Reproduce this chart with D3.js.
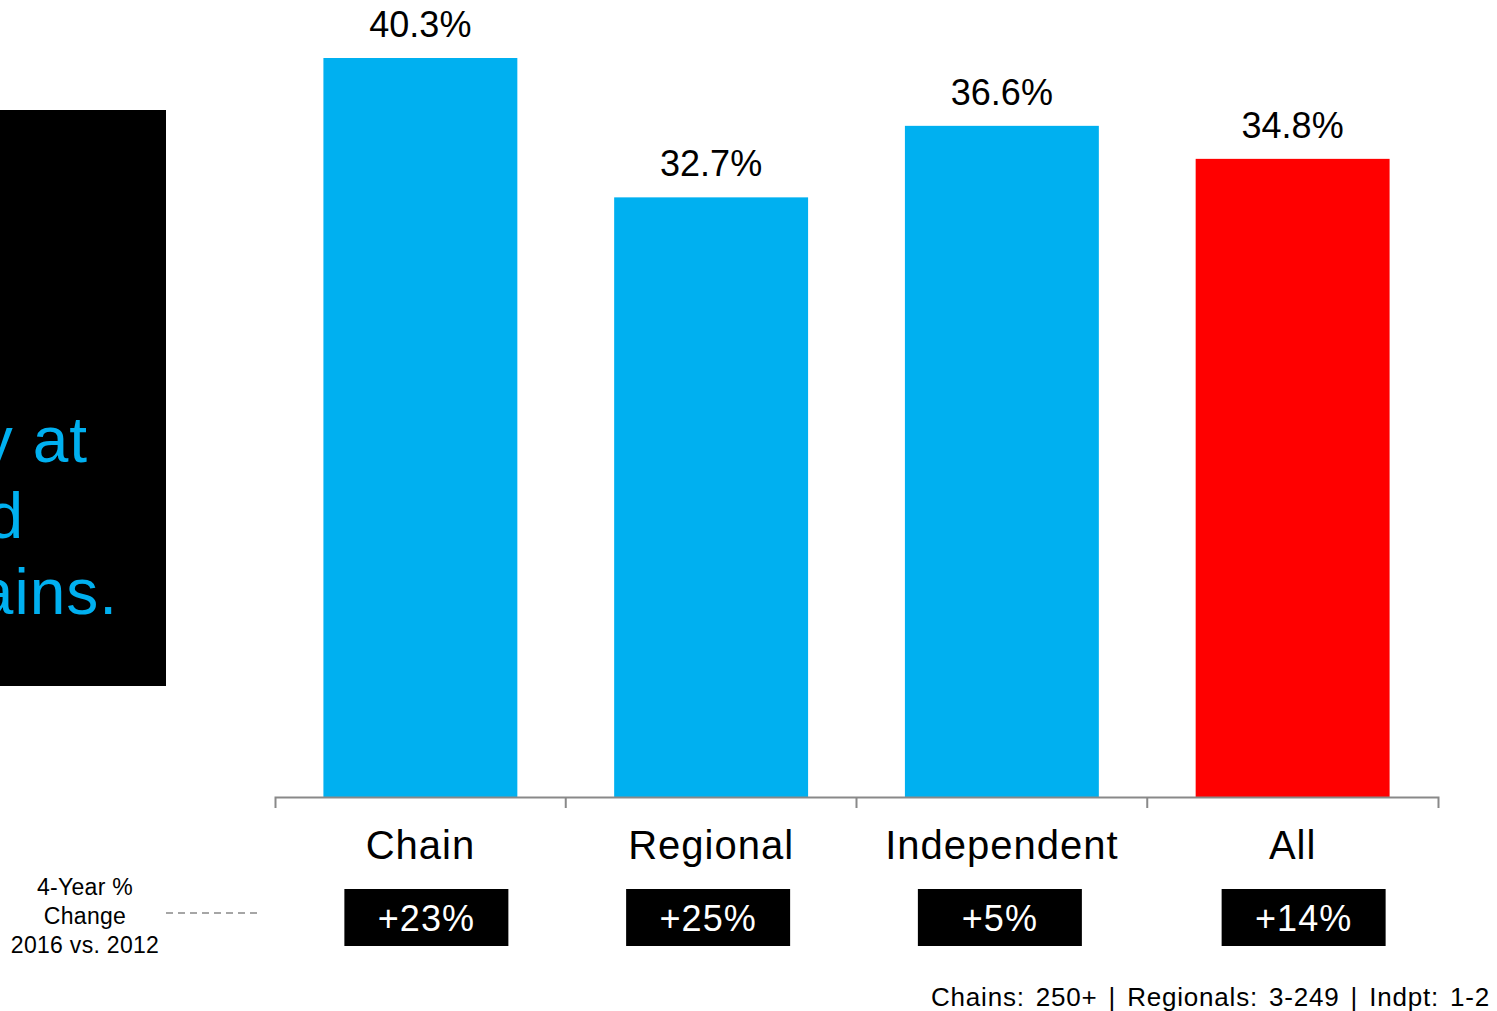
<!DOCTYPE html>
<html><head><meta charset="utf-8">
<script src="https://cdn.jsdelivr.net/npm/d3@7"></script>
<style>
html,body{margin:0;padding:0;background:#fff;}
svg{display:block;font-family:"Liberation Sans",Arial,sans-serif;}
</style></head>
<body>
<svg id="chart" width="1497" height="1011"></svg>
<script>
const categories = ["Chain", "Regional", "Independent", "All"];
const values = [40.3, 32.7, 36.6, 34.8];
const valueLabels = ["40.3%", "32.7%", "36.6%", "34.8%"];
const changeLabels = ["+23%", "+25%", "+5%", "+14%"];
const sideLines = ["ly at", "and", "chains."];
const changeTitle = ["4-Year %", "Change", "2016 vs. 2012"];
const footnote = "Chains: 250+ | Regionals: 3-249 | Indpt: 1-2";

const svg = d3.select("#chart");
const blue = "#00B0F0", red = "#FF0000", axisGrey = "#898989";

const x = d3.scaleBand().domain(categories).range([275, 1438]).padding(0);
const y = d3.scaleLinear().domain([0, 40.3]).range([797, 58]);
const barW = x.bandwidth() * 0.667;

// left black panel with clipped text (cut off at the page edge, as in the source slide)
svg.append("defs").append("clipPath").attr("id", "panelClip")
  .append("rect").attr("x", 0).attr("y", 110).attr("width", 166).attr("height", 576);
svg.append("rect").attr("x", 0).attr("y", 110).attr("width", 166).attr("height", 576).attr("fill", "#000");
const panel = svg.append("g").attr("clip-path", "url(#panelClip)");
const sideEnds = [88, 24, 118];
panel.selectAll("text").data(sideLines).join("text")
  .attr("x", (d, i) => sideEnds[i]).attr("y", (d, i) => 462 + i * 76)
  .attr("text-anchor", "end").attr("fill", blue)
  .attr("font-size", 64).attr("letter-spacing", 1).text(d => d);

// bars
svg.selectAll("rect.bar").data(categories).join("rect").attr("class", "bar")
  .attr("x", d => x(d) + (x.bandwidth() - barW) / 2)
  .attr("width", barW)
  .attr("y", (d, i) => y(values[i]))
  .attr("height", (d, i) => y(0) - y(values[i]))
  .attr("fill", (d, i) => d === "All" ? red : blue);

// value labels
svg.selectAll("text.val").data(categories).join("text").attr("class", "val")
  .attr("x", d => x(d) + x.bandwidth() / 2)
  .attr("y", (d, i) => y(values[i]) - 21)
  .attr("text-anchor", "middle").attr("font-size", 36).attr("fill", "#000")
  .text((d, i) => valueLabels[i]);

// axis
const axis = d3.axisBottom(x).tickSize(0).tickSizeOuter(11).tickPadding(34);
const ag = svg.append("g").attr("transform", "translate(0,797)").call(axis);
ag.select(".domain").attr("stroke", axisGrey).attr("stroke-width", 2);
ag.selectAll(".tick text").attr("font-size", 40).attr("letter-spacing", 1)
  .attr("fill", "#000").attr("font-family", "Liberation Sans, Arial, sans-serif");
ag.selectAll(".tick line").remove();
// inner boundary ticks
svg.append("g").selectAll("line").data(categories.slice(1)).join("line")
  .attr("x1", d => x(d)).attr("x2", d => x(d))
  .attr("y1", 797).attr("y2", 808).attr("stroke", axisGrey).attr("stroke-width", 2);

// change boxes (slight per-box horizontal nudges, as laid out in the source)
const boxW = 164, boxH = 57;
const boxNudge = [6, -3, -2, 11];
const cg = svg.append("g").selectAll("g").data(categories).join("g")
  .attr("transform", (d, i) => `translate(${x(d) + x.bandwidth() / 2 + boxNudge[i]},889)`);
cg.append("rect").attr("x", -boxW / 2).attr("y", 0).attr("width", boxW).attr("height", boxH).attr("fill", "#000");
cg.append("text").attr("x", 0).attr("y", 42).attr("text-anchor", "middle")
  .attr("font-size", 36).attr("fill", "#fff").attr("letter-spacing", 1)
  .text((d, i) => changeLabels[i]);

// change title
svg.append("g").selectAll("text").data(changeTitle).join("text")
  .attr("x", 85).attr("y", (d, i) => 895 + i * 29)
  .attr("text-anchor", "middle").attr("font-size", 23).attr("fill", "#000")
  .attr("letter-spacing", 0.3)
  .text(d => d);
svg.append("line").attr("x1", 166).attr("x2", 262).attr("y1", 913).attr("y2", 913)
  .attr("stroke", axisGrey).attr("stroke-width", 1.5).attr("stroke-dasharray", "7,5");

// footnote
svg.append("text").attr("x", 1490).attr("y", 1006).attr("text-anchor", "end")
  .attr("font-size", 26).attr("letter-spacing", 0.8).attr("word-spacing", 3)
  .attr("fill", "#000").text(footnote);
</script>
</body></html>
